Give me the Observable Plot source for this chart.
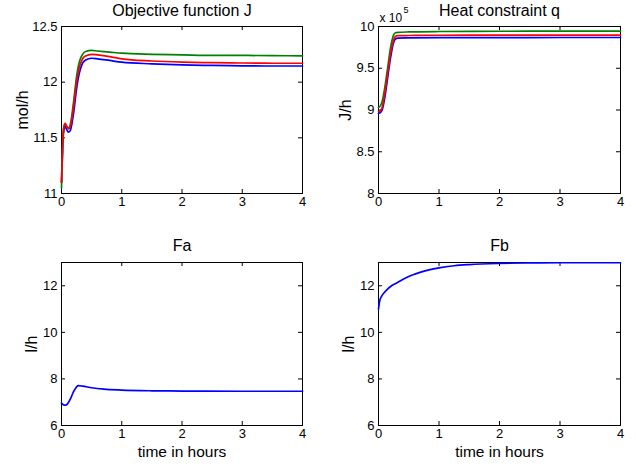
<!DOCTYPE html>
<html>
<head>
<meta charset="utf-8">
<script src="https://cdn.jsdelivr.net/npm/d3@7"></script>
<script src="https://cdn.jsdelivr.net/npm/@observablehq/plot@0.6"></script>
<style>
  html, body { margin: 0; padding: 0; background: #fff; }
  #root { position: relative; width: 636px; height: 466px; background: #fff; overflow: hidden; }
  .panel { position: absolute; }
</style>
</head>
<body>
<div id="root"></div>
<script>
// ---------- data ----------
const xTicks = [0, 1, 2, 3, 4];

// Objective function J (mol/h)
const tJ = [0, 0.02, 0.04, 0.06, 0.09, 0.12, 0.15, 0.2, 0.25, 0.3, 0.35, 0.4, 0.5, 0.6, 0.8, 1.0, 1.5, 2, 2.5, 3, 3.5, 4];
const jGreen = [11.05, 11.45, 11.6, 11.62, 11.6, 11.59, 11.63, 11.82, 12.05, 12.19, 12.25, 12.275, 12.285, 12.28, 12.27, 12.26, 12.25, 12.245, 12.24, 12.24, 12.238, 12.237];
const jRed   = [11.1, 11.45, 11.6, 11.63, 11.6, 11.58, 11.61, 11.78, 12.0, 12.14, 12.21, 12.235, 12.25, 12.245, 12.23, 12.21, 12.19, 12.18, 12.175, 12.172, 12.17, 12.17];
const jBlue  = [11.1, 11.43, 11.57, 11.6, 11.57, 11.55, 11.57, 11.72, 11.94, 12.09, 12.17, 12.2, 12.215, 12.21, 12.195, 12.18, 12.165, 12.155, 12.15, 12.147, 12.145, 12.145];
const jTicks = [11, 11.5, 12, 12.5];

// Heat constraint q (J/h)
const tQ = [0, 0.03, 0.06, 0.1, 0.15, 0.2, 0.25, 0.28, 0.32, 0.5, 1, 2, 3, 4];
const qGreen = [9.03e5, 9.05e5, 9.1e5, 9.25e5, 9.5e5, 9.75e5, 9.9e5, 9.925e5, 9.93e5, 9.935e5, 9.94e5, 9.943e5, 9.944e5, 9.945e5];
const qRed   = [8.98e5, 8.99e5, 9.03e5, 9.18e5, 9.43e5, 9.68e5, 9.84e5, 9.88e5, 9.89e5, 9.892e5, 9.895e5, 9.896e5, 9.896e5, 9.896e5];
const qBlue  = [8.96e5, 8.97e5, 9.0e5, 9.13e5, 9.38e5, 9.63e5, 9.81e5, 9.85e5, 9.86e5, 9.863e5, 9.866e5, 9.867e5, 9.868e5, 9.868e5];
const qTicks = [8e5, 8.5e5, 9e5, 9.5e5, 10e5];

// Fa (l/h)
const tFa = [0, 0.03, 0.066, 0.1, 0.15, 0.2, 0.25, 0.28, 0.35, 0.5, 0.7, 1, 1.5, 2, 3, 4];
const fa  = [6.96, 6.89, 6.87, 6.93, 7.15, 7.45, 7.66, 7.71, 7.69, 7.62, 7.56, 7.52, 7.49, 7.48, 7.47, 7.47];

// Fb (l/h)
const tFb = [0, 0.02, 0.05, 0.1, 0.15, 0.2, 0.3, 0.4, 0.5, 0.6, 0.8, 1, 1.25, 1.5, 2, 2.5, 3, 4];
const fb  = [11.0, 11.35, 11.55, 11.72, 11.86, 11.97, 12.12, 12.27, 12.4, 12.5, 12.66, 12.77, 12.86, 12.91, 12.96, 12.98, 12.99, 12.99];
const fTicks = [6, 8, 10, 12];

// ---------- drawing ----------
const FONT = "'Liberation Sans', Arial, Helvetica, sans-serif";
const GREEN = "#008000", RED = "#ff0000", BLUE = "#0000ff";

function zip(ts, vs, name) { return ts.map((t, i) => ({t, v: vs[i], s: name})); }

function panel(opts) {
  const {left, top, width, height, margin, yDomain, yTicks, yFormat, series, title, titleDy, ylabel, ylabelDx, xlabel, exponent} = opts;
  const fw = width - margin.left - margin.right;
  const fh = height - margin.top - margin.bottom;
  const TL = 4;
  const marks = [
    Plot.frame({stroke: "black", strokeWidth: 1}),
    // inward ticks on all four sides
    Plot.tickX(xTicks, {x: d => d, insetTop: fh - TL, stroke: "black"}),
    Plot.tickX(xTicks, {x: d => d, insetBottom: fh - TL, stroke: "black"}),
    Plot.tickY(yTicks, {y: d => d, insetRight: fw - TL, stroke: "black"}),
    Plot.tickY(yTicks, {y: d => d, insetLeft: fw - TL, stroke: "black"}),
    Plot.axisX(xTicks, {tickSize: 0, tickPadding: 3, tickFormat: d => String(d), label: null, fontSize: 13}),
    Plot.axisY(yTicks, {tickSize: 0, tickPadding: 4, tickFormat: yFormat, label: null, fontSize: 13}),
  ];
  for (const s of series) {
    marks.push(Plot.line(s.data, {x: "t", y: "v", stroke: s.color, strokeWidth: 1.7, curve: "monotone-x"}));
  }
  marks.push(Plot.text([title], {text: d => d, frameAnchor: "top", textAnchor: "middle", lineAnchor: "middle", dy: titleDy, fontSize: 16}));
  marks.push(Plot.text([ylabel], {text: d => d, frameAnchor: "left", textAnchor: "middle", lineAnchor: "middle", dx: ylabelDx, rotate: -90, fontSize: 16}));
  if (xlabel) marks.push(Plot.text([xlabel], {text: d => d, frameAnchor: "bottom", textAnchor: "middle", lineAnchor: "middle", dy: 27, fontSize: 15.5}));
  if (exponent) {
    marks.push(Plot.text(["x 10"], {text: d => d, frameAnchor: "top-left", textAnchor: "start", lineAnchor: "middle", dx: 1, dy: -8, fontSize: 12}));
    marks.push(Plot.text([exponent], {text: d => d, frameAnchor: "top-left", textAnchor: "start", lineAnchor: "middle", dx: 25, dy: -16, fontSize: 9}));
  }
  const chart = Plot.plot({
    width, height,
    marginLeft: margin.left, marginRight: margin.right, marginTop: margin.top, marginBottom: margin.bottom,
    x: {domain: [0, 4]},
    y: {domain: yDomain},
    style: {fontFamily: FONT, color: "black", background: "transparent", overflow: "visible"},
    marks
  });
  const div = document.createElement("div");
  div.className = "panel";
  div.style.left = left + "px";
  div.style.top = top + "px";
  div.appendChild(chart);
  document.getElementById("root").appendChild(div);
}

panel({
  left: 0, top: 0, width: 318, height: 230,
  margin: {left: 61, right: 16, top: 26, bottom: 37},
  yDomain: [11, 12.5], yTicks: jTicks, yFormat: d => String(d),
  series: [
    {data: zip(tJ, jBlue, "blue"), color: BLUE},
    {data: zip(tJ, jGreen, "green"), color: GREEN},
    {data: zip(tJ, jRed, "red"), color: RED}
  ],
  title: "Objective function J", titleDy: -16, ylabel: "mol/h", ylabelDx: -39
});

panel({
  left: 318, top: 0, width: 318, height: 230,
  margin: {left: 60, right: 16, top: 26, bottom: 37},
  yDomain: [8e5, 10e5], yTicks: qTicks, yFormat: d => String(d / 1e5),
  series: [
    {data: zip(tQ, qBlue, "blue"), color: BLUE},
    {data: zip(tQ, qGreen, "green"), color: GREEN},
    {data: zip(tQ, qRed, "red"), color: RED}
  ],
  title: "Heat constraint q", titleDy: -16, ylabel: "J/h", ylabelDx: -33, exponent: "5"
});

panel({
  left: 0, top: 230, width: 318, height: 236,
  margin: {left: 61, right: 16, top: 32, bottom: 41},
  yDomain: [6, 13], yTicks: fTicks, yFormat: d => String(d),
  series: [{data: zip(tFa, fa, "Fa"), color: BLUE}],
  title: "Fa", titleDy: -17, ylabel: "l/h", ylabelDx: -30, xlabel: "time in hours"
});

panel({
  left: 318, top: 230, width: 318, height: 236,
  margin: {left: 60, right: 16, top: 32, bottom: 41},
  yDomain: [6, 13], yTicks: fTicks, yFormat: d => String(d),
  series: [{data: zip(tFb, fb, "Fb"), color: BLUE}],
  title: "Fb", titleDy: -17, ylabel: "l/h", ylabelDx: -30, xlabel: "time in hours"
});
</script>
</body>
</html>
